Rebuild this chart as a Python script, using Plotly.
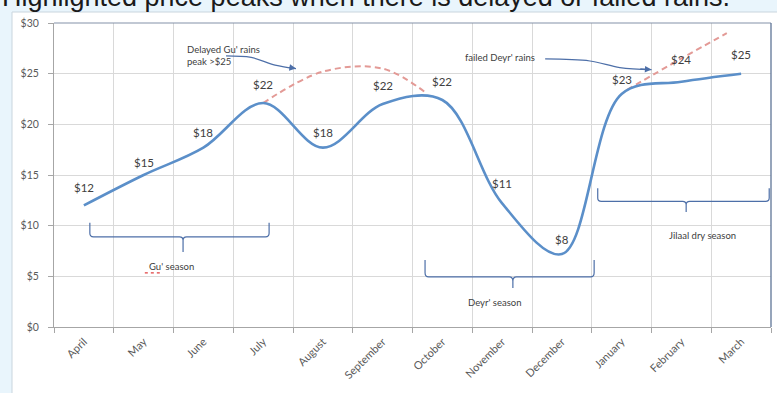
import plotly.graph_objects as go

# ---------------- data ----------------
months = ["April", "May", "June", "July", "August", "September", "October",
          "November", "December", "January", "February", "March"]
price = [12, 15, 17.7, 22.1, 17.7, 22, 22.4, 12.2, 7.2, 23, 24.2, 25]
price_labels = ["$12", "$15", "$18", "$22", "$18", "$22", "$22", "$11", "$8", "$23", "$24", "$25"]

# delayed / failed rains scenarios (dashed)
delayed_gu_x = [3, 4, 5, 5.75]
delayed_gu_y = [22.1, 25.2, 25.5, 23.0]
failed_deyr_x = [9.09, 10, 10.76]
failed_deyr_y = [23.4, 26.5, 29.0]

# season brackets: (x start, x middle, x end, tip y, bar y, bottom y)
season_names = ["Gu' season", "Deyr' season", "Jilaal dry season"]
season_spans = [(0.10, 1.66, 3.10, 10.3, 8.9, 7.4),
                (5.71, 7.18, 8.54, 6.6, 4.95, 3.85),
                (8.60, 10.08, 11.47, 13.7, 12.4, 11.35)]
season_text_pos = [(1.47, 6.0), (6.88, 2.4), (10.35, 9.0)]

# curved annotation arrows
arrow1_x = [2.38, 2.8, 3.2, 3.55]
arrow1_y = [26.75, 26.6, 25.85, 25.5]
arrow2_x = [7.72, 8.47, 8.97, 9.5]
arrow2_y = [26.45, 26.25, 25.6, 25.4]

# ---------------- style ----------------
label_shift = [18, 13, 15, 19, 15, 19, 19, 20, 15, 14, 22, 19]
BLUE = "#5b8fc9"
DASH = "#e39a96"
BRACKET = "#4d6fa8"
TXT = "#404040"
FONT = "Lato"

W, H = 777, 393
L, R, T, B = 54, 6, 23, 66
PW, PH = W - L - R, H - T - B


def px_x(p):
    return (p - L) / PW


def px_y(p):
    return (H - B - p) / PH


fig = go.Figure()

fig.add_trace(go.Scatter(x=delayed_gu_x, y=delayed_gu_y, mode="lines",
                         line=dict(color=DASH, width=2, dash="6px,4px", shape="spline"),
                         hoverinfo="skip", showlegend=False))
fig.add_trace(go.Scatter(x=failed_deyr_x, y=failed_deyr_y, mode="lines",
                         line=dict(color=DASH, width=2, dash="6px,4px", shape="spline"),
                         hoverinfo="skip", showlegend=False))
fig.add_trace(go.Scatter(x=list(range(len(months))), y=price, mode="lines",
                         line=dict(color=BLUE, width=2.6, shape="spline", smoothing=1),
                         hoverinfo="skip", showlegend=False))

for ax_, ay_ in [(arrow1_x, arrow1_y), (arrow2_x, arrow2_y)]:
    fig.add_trace(go.Scatter(x=ax_, y=ay_, mode="lines",
                             line=dict(color=BRACKET, width=1.2, shape="spline"),
                             hoverinfo="skip", showlegend=False))
    fig.add_annotation(x=ax_[-1], y=ay_[-1], ax=ax_[-2] + (ax_[-1] - ax_[-2]) * 0.6,
                       ay=ay_[-2] + (ay_[-1] - ay_[-2]) * 0.6,
                       xref="x", yref="y", axref="x", ayref="y", text="",
                       showarrow=True, arrowhead=2, arrowsize=1.1, arrowwidth=1.2,
                       arrowcolor=BRACKET)

# brackets
for (x0, xm, x1, yt, yb, ybot) in season_spans:
    dx = 0.06
    dy = (yt - yb) * 0.25
    path = (f"M {x0},{yt} L {x0},{yb + dy} Q {x0},{yb} {x0 + dx},{yb} "
            f"L {xm - dx},{yb} Q {xm},{yb} {xm},{yb - dy} L {xm},{ybot} "
            f"M {xm},{yb - dy} Q {xm},{yb} {xm + dx},{yb} "
            f"L {x1 - dx},{yb} Q {x1},{yb} {x1},{yb + dy} L {x1},{yt}")
    fig.add_shape(type="path", path=path, xref="x", yref="y",
                  line=dict(color=BRACKET, width=1.2))

for name, (tx, ty) in zip(season_names, season_text_pos):
    fig.add_annotation(x=tx, y=ty, xref="x", yref="y", text=name, showarrow=False,
                       font=dict(family=FONT, size=9.5, color=TXT))

# spell-check squiggle under "Gu'"
fig.add_shape(type="line", xref="x", yref="y", x0=1.02, x1=1.3, y0=5.35, y1=5.35,
              line=dict(color="#e04040", width=1.2, dash="dot"))

# data labels
for i, (lab, v) in enumerate(zip(price_labels, price)):
    fig.add_annotation(x=i, y=v, xref="x", yref="y", text=lab, showarrow=False,
                       yshift=label_shift[i], font=dict(family=FONT, size=11.5, color=TXT))

# callout texts
fig.add_annotation(x=px_x(185), y=px_y(55), xref="paper", yref="paper",
                   xanchor="left", yanchor="middle", align="left",
                   text="Delayed Gu' rains<br>peak >$25", showarrow=False,
                   font=dict(family=FONT, size=9.5, color=TXT))
fig.add_annotation(x=px_x(537), y=px_y(50), xref="paper", yref="paper",
                   text="failed Deyr' rains", showarrow=False,
                   font=dict(family=FONT, size=9.5, color=TXT))

# title (cut off at top like the reference)
fig.add_annotation(x=px_x(0), y=px_y(-3), xref="paper", yref="paper",
                   xanchor="left", yanchor="middle",
                   text="Highlighted price peaks when there is delayed or failed rains.",
                   showarrow=False,
                   font=dict(family="Liberation Sans", size=27, color="#1a1a1a"))

# white chart panel
fig.add_shape(type="rect", xref="paper", yref="paper", layer="below",
              x0=px_x(12), x1=px_x(800), y0=px_y(420), y1=px_y(12),
              fillcolor="white", line=dict(color="#c9d5de", width=1))
# darker top / right plot border
fig.add_shape(type="line", xref="paper", yref="paper", x0=0, x1=1, y0=1, y1=1,
              line=dict(color="#8391a8", width=1))
fig.add_shape(type="line", xref="paper", yref="paper", x0=1, x1=1, y0=0, y1=1,
              line=dict(color="#5f7597", width=1.3))

fig.update_layout(
    width=W, height=H, autosize=False,
    margin=dict(l=L, r=R, t=T, b=B, pad=0),
    paper_bgcolor="#e9f5fc", plot_bgcolor="rgba(0,0,0,0)",
    font=dict(family=FONT, color="#595959"),
    xaxis=dict(range=[-0.5, 11.5], tickvals=list(range(12)), ticktext=months,
               tickangle=-45, showgrid=False, zeroline=False,
               ticks="outside", ticklen=3, tickcolor="rgba(0,0,0,0)",
               tickfont=dict(family=FONT, size=11, color="#595959"),
               showline=True, linecolor="#a6a6a6", linewidth=1,
               minor=dict(tickvals=[i - 0.5 for i in range(13)], showgrid=True,
                          gridcolor="#d9d9d9", gridwidth=1, ticks="outside",
                          ticklen=5, tickcolor="#a6a6a6")),
    yaxis=dict(range=[0, 30], dtick=5, tickprefix="$", showgrid=True,
               gridcolor="#d9d9d9", gridwidth=1, zeroline=False,
               ticks="outside", ticklen=5, tickcolor="#a6a6a6",
               ticklabelstandoff=7,
               tickfont=dict(family=FONT, size=10.5, color="#595959"),
               showline=True, linecolor="#a6a6a6", linewidth=1),
)

fig.write_html("out.html")
